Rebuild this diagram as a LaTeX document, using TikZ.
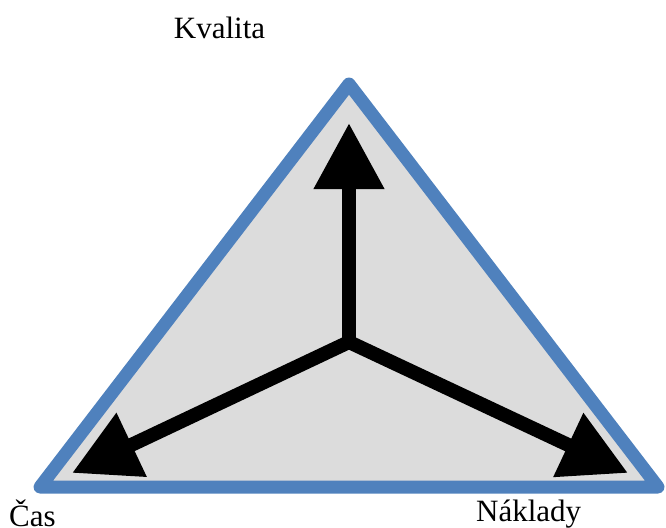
\documentclass[tikz,border=0pt]{standalone}
\usepackage{fontspec}
\setmainfont{Liberation Serif}
\usetikzlibrary{arrows.meta}
\definecolor{triblue}{HTML}{4F81BD}
\definecolor{trigray}{HTML}{DCDCDC}
\tikzset{
  tri/.style={draw=triblue, fill=trigray, line width=13pt, line join=round},
  vec/.style={draw=black, line width=14pt, -{Triangle[length=66pt,width=67pt]}},
  lbl/.style={inner sep=0pt, font=\fontsize{31}{37}\selectfont}
}
\begin{document}
\begin{tikzpicture}[x=1pt,y=-1pt]
\useasboundingbox (0,0) rectangle (666,527);
\coordinate (A) at (349,84);
\coordinate (B) at (40,487);
\coordinate (C) at (658,487);
\draw[tri] (A) -- (B) -- (C) -- cycle;
\coordinate (O) at (349,342);
\coordinate (tq) at (349,123);
\coordinate (tc) at (72,473);
\coordinate (tn) at (628,473);
\draw[vec] (O) -- (tq);
\draw[vec] (O) -- (tc);
\draw[vec] (O) -- (tn);
\node[lbl, anchor=base] (kval) at (219.5,38) {Kvalita};
\node[lbl, anchor=base west] (cas) at (9,526) {Čas};
\node[lbl, anchor=base west] (nakl) at (476,521) {Náklady};
\end{tikzpicture}
\end{document}
